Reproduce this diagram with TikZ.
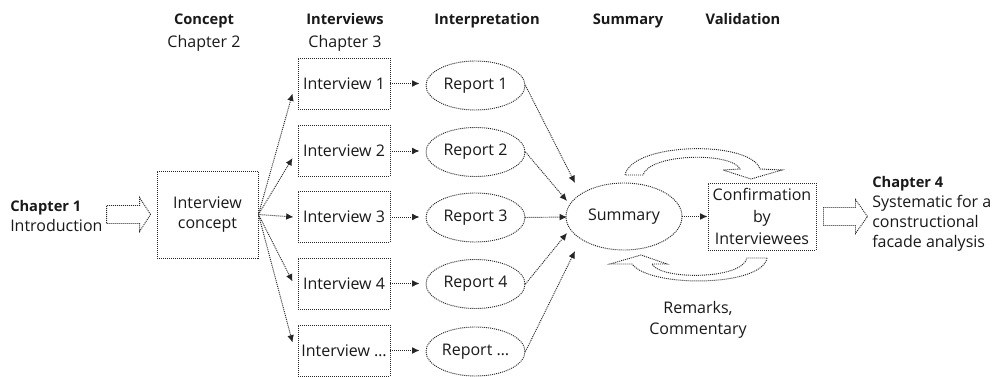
\documentclass[tikz,border=0pt]{standalone}
\usepackage{fontspec}
\setmainfont{Open Sans}
\usetikzlibrary{arrows.meta,shapes.geometric,calc}

\begin{document}
\begin{tikzpicture}[x=0.75pt,y=-0.75pt,
  dot/.style={draw=black!85, line width=0.7pt, dash pattern=on 0.75pt off 0.75pt},
  lbl/.style={font=\fontsize{12}{15}\selectfont, text=black!90},
  hdr/.style={font=\fontsize{11}{14}\selectfont\bfseries, text=black!90, anchor=base},
  sub/.style={font=\fontsize{12}{15}\selectfont, text=black!90, anchor=base},
  ivbox/.style={dot, lbl, rectangle, inner sep=0pt, minimum width=69pt, minimum height=38.25pt},
  rep/.style={dot, lbl, ellipse, inner sep=0pt, minimum width=74.25pt, minimum height=36.75pt},
  link/.style={dot, -{Latex[length=5.5pt,width=5pt]}},
  blockarrow/.style={dot, line join=miter},
]
\useasboundingbox (0,0) rectangle (1002,377);

% column headers
\node[hdr] (hconcept) at (204,25) {Concept};
\node[sub] (hch2) at (204,48) {Chapter 2};
\node[hdr] (hinter) at (345,25) {Interviews};
\node[sub] (hch3) at (345,48) {Chapter 3};
\node[hdr] (hinterp) at (487,25) {Interpretation};
\node[hdr] (hsum) at (628,25) {Summary};
\node[hdr] (hval) at (743,25) {Validation};

% entry and exit chapters
\node[lbl, align=left, anchor=west, inner sep=0pt] (ch1) at (10,216)
  {{\fontsize{11}{14}\selectfont\bfseries Chapter 1}\\Introduction};
\node[lbl, align=left, anchor=west, inner sep=0pt] (ch4) at (872,214)
  {{\fontsize{11}{14}\selectfont\bfseries Chapter 4}\\Systematic for a\\constructional\\facade analysis};

% interview concept
\node[dot, lbl, align=center, inner sep=0pt, minimum width=75.75pt, minimum height=65.25pt]
  (concept) at (207.5,214.5) {Interview\\concept};

% interviews
\node[ivbox] (iv1) at (344,83.5) {Interview 1};
\node[ivbox] (iv2) at (344,151) {Interview 2};
\node[ivbox] (iv3) at (344,217) {Interview 3};
\node[ivbox] (iv4) at (344,283.5) {Interview 4};
\node[ivbox] (iv5) at (344,350.5) {Interview \ldots};

% reports
\node[rep] (rp1) at (475.5,85.5) {Report 1};
\node[rep] (rp2) at (475.5,152) {Report 2};
\node[rep] (rp3) at (475.5,217.5) {Report 3};
\node[rep] (rp4) at (475.5,284) {Report 4};
\node[rep] (rp5) at (475.5,351.5) {Report \ldots};

% summary and validation
\node[dot, lbl, ellipse, inner sep=0pt, minimum width=87pt, minimum height=50.25pt]
  (sum) at (624,216.5) {Summary};
\node[dot, lbl, align=center, inner sep=0pt, minimum width=81pt, minimum height=50.25pt,
  font=\fontsize{12}{16.5}\selectfont] (conf) at (762,216.5) {Confirmation\\by\\Interviewees};
\node[lbl, align=center, font=\fontsize{12}{16}\selectfont] (rem) at (698,320) {Remarks,\\Commentary};

% block arrows in and out
\draw[blockarrow] ($(concept.west)+(-6,0)$) -- ++(-11,-17) -- ++(0,8) -- ++(-33,0)
  -- ++(0,18) -- ++(33,0) -- ++(0,8) -- cycle;
\draw[blockarrow] ($(conf.east)+(51,0)$) -- ++(-12,-17) -- ++(0,8) -- ++(-32,0)
  -- ++(0,18) -- ++(32,0) -- ++(0,8) -- cycle;

% fan from the concept to the interviews
\draw[link] (concept.east) -- ($(iv1.west)+(-5,10)$);
\draw[link] (concept.east) -- ($(iv2.west)+(-5,7)$);
\draw[link] (concept.east) -- ($(iv3.west)+(-4,0)$);
\draw[link] (concept.east) -- ($(iv4.west)+(-5,-2)$);
\draw[link] (concept.east) -- ($(iv5.west)+(-5,-8)$);

% interviews to reports
\foreach \k in {1,2,3,4,5}{
  \draw[link, shorten >=4.5pt] (iv\k.east) -- (iv\k.east -| rp\k.west);
}

% reports to summary
\draw[link] (rp1.east) -- ($(sum.center)+(-49,-33.5)$);
\draw[link] (rp2.east) -- ($(sum.center)+(-57,-15.5)$);
\draw[link] (rp3.east) -- ($(sum.center)+(-57,0.5)$);
\draw[link] (rp4.east) -- ($(sum.center)+(-57,16.5)$);
\draw[link] (rp5.east) -- ($(sum.center)+(-49,34.5)$);

\draw[link] (sum.east) -- (conf.west);

% feedback loop: curved block arrows above and below
\draw[blockarrow] (625,175) .. controls (632,142) and (750,140) .. (760,169)
  -- (782,170) -- (751,179) -- (723,170) -- (740,169)
  .. controls (732,152) and (650,153) .. (643,175) -- cycle;
\draw[blockarrow] (767,258) .. controls (762,287) and (650,288) .. (632,264)
  -- (610,264) -- (641,255) -- (667,264) -- (652,264)
  .. controls (660,280) and (742,280) .. (747,258) -- cycle;
\end{tikzpicture}
\end{document}
